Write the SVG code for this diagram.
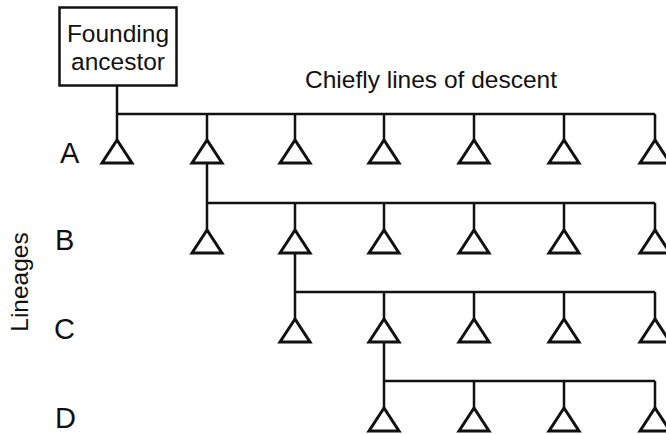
<svg xmlns="http://www.w3.org/2000/svg" width="666" height="434" viewBox="0 0 666 434">
<style>
.ln{stroke:#111;stroke-width:2.5;fill:none}
.tri{stroke:#111;stroke-width:3;fill:#fff;stroke-linejoin:miter}
.t{font-family:"Liberation Sans",Arial,sans-serif;fill:#111}
.row{font-size:29px}
</style>
<defs>
<polygon id="tr" points="0,0 -15,23 15,23"/>
</defs>
<rect width="666" height="434" fill="#fff"/>
<g id="connectors">
<path class="ln" d="M117,86 V140 M117,114 H655 M207,114 V140 M295,114 V140 M384,114 V140 M474,114 V140 M564,114 V140 M655,114 V140"/>
<path class="ln" d="M207,163 V230 M207,203 H655 M295,203 V230 M384,203 V230 M474,203 V230 M564,203 V230 M655,203 V230"/>
<path class="ln" d="M295,253 V319 M295,292 H655 M384,292 V319 M474,292 V319 M564,292 V319 M655,292 V319"/>
<path class="ln" d="M384,342 V408 M384,381 H655 M474,381 V408 M564,381 V408 M655,381 V408"/>
</g>
<g id="ancestor">
<rect x="59.500" y="7.500" width="117" height="78" fill="#fff" stroke="#111" stroke-width="2.5"/>
<text class="t" x="118" y="42" font-size="24.5" text-anchor="middle">Founding</text>
<text class="t" x="118" y="70" font-size="24.5" text-anchor="middle">ancestor</text>
</g>
<g id="title"><text class="t" x="305" y="88" font-size="24.5">Chiefly lines of descent</text></g>
<g id="lineages-label"><text class="t" font-size="24.5" text-anchor="middle" transform="translate(28,282) rotate(-90)">Lineages</text></g>
<g id="row-labels">
<text class="t row" x="60" y="163">A</text>
<text class="t row" x="55" y="250">B</text>
<text class="t row" x="54" y="339">C</text>
<text class="t row" x="55" y="428">D</text>
</g>
<g id="row-A">
<use href="#tr" class="tri" x="117" y="140"/><use href="#tr" class="tri" x="207" y="140"/><use href="#tr" class="tri" x="295" y="140"/><use href="#tr" class="tri" x="384" y="140"/><use href="#tr" class="tri" x="474" y="140"/><use href="#tr" class="tri" x="564" y="140"/><use href="#tr" class="tri" x="655" y="140"/>
</g>
<g id="row-B">
<use href="#tr" class="tri" x="207" y="230"/><use href="#tr" class="tri" x="295" y="230"/><use href="#tr" class="tri" x="384" y="230"/><use href="#tr" class="tri" x="474" y="230"/><use href="#tr" class="tri" x="564" y="230"/><use href="#tr" class="tri" x="655" y="230"/>
</g>
<g id="row-C">
<use href="#tr" class="tri" x="295" y="319"/><use href="#tr" class="tri" x="384" y="319"/><use href="#tr" class="tri" x="474" y="319"/><use href="#tr" class="tri" x="564" y="319"/><use href="#tr" class="tri" x="655" y="319"/>
</g>
<g id="row-D">
<use href="#tr" class="tri" x="384" y="408"/><use href="#tr" class="tri" x="474" y="408"/><use href="#tr" class="tri" x="564" y="408"/><use href="#tr" class="tri" x="655" y="408"/>
</g>
</svg>
